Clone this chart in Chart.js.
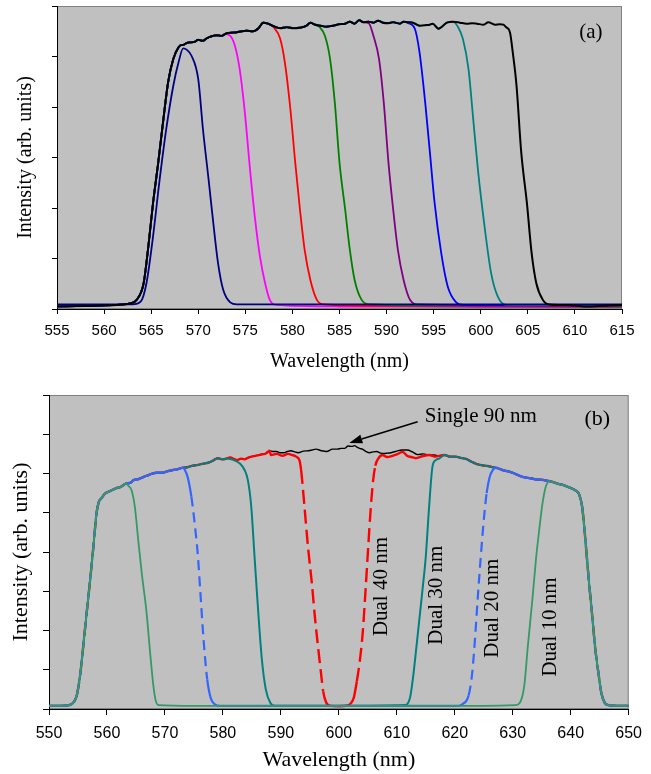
<!DOCTYPE html>
<html><head><meta charset="utf-8">
<script src="https://cdn.jsdelivr.net/npm/chart.js@4.4.1/dist/chart.umd.min.js"></script>
<style>
html,body{margin:0;padding:0;background:#fff;width:651px;height:774px;overflow:hidden;}
canvas{position:absolute;left:0;}
#ca{top:0;} #cb{top:380px;}
</style></head><body>
<canvas id="ca" width="651" height="378"></canvas>
<canvas id="cb" width="651" height="394"></canvas>
<script>
// ---------------- Panel (a) data ----------------
const xTicksA = [555,560,565,570,575,580,585,590,595,600,605,610,615];
const yTicksA = [0,1,2,3,4,5,6];
const riseAx = [555,558,560,562,562.75,563.45,564.2,564.7,565.2,565.75,566.3,566.8,567.35,567.9,568.25];
const riseAy = [0.05,0.06,0.07,0.09,0.11,0.18,0.51,1.24,2.1,2.9,3.76,4.49,4.95,5.18,5.23];
const plateauAx = [568.4,568.8,569.1,569.6,570.0,570.5,570.9,571.4,571.95,572.5,573.0,573.5,574.1,574.6,575.1,575.8,576.4,576.9,577.4,578.0,578.7,579.4,580.1,580.8,581.5,581.9,582.4,583.0,583.6,584.3,585.0,585.6,586.1,586.6,587.1,587.5,588.1,588.6,589.1,589.6,590.2,590.7,591.4,591.8,592.3,592.8,593.5,594.1,594.6,594.9,595.5,595.8,596.4,597.1,597.8,598.5,599.1,599.6,600.3,600.8,601.5,602.0,602.4];
const plateauAy = [5.23,5.27,5.28,5.29,5.33,5.31,5.36,5.40,5.42,5.41,5.46,5.47,5.48,5.50,5.51,5.50,5.56,5.67,5.65,5.60,5.56,5.58,5.56,5.57,5.61,5.67,5.63,5.61,5.59,5.61,5.64,5.65,5.69,5.65,5.72,5.68,5.69,5.67,5.71,5.67,5.66,5.68,5.65,5.69,5.68,5.67,5.61,5.62,5.63,5.65,5.55,5.58,5.67,5.69,5.67,5.65,5.66,5.65,5.63,5.68,5.63,5.64,5.63];
const navyX = [555,563.0,563.9,564.5,565.2,565.9,566.6,567.35,567.9,568.4,568.8,569.3,570.0,570.5,571.1,571.6,572.1,572.65,573.4,574.1,615];
const navyY = [0.09,0.09,0.15,0.51,1.44,2.56,3.56,4.42,4.88,5.16,5.13,5.01,4.55,3.56,2.56,1.7,0.91,0.38,0.13,0.09,0.09];
const magentaFallX = [572.8,573.4,573.9,574.4,574.95,575.5,576.0,576.55,577.1,577.6,578.3,585,600,615];
const magentaFallY = [5.45,5.41,5.21,4.75,3.89,2.76,1.84,1.04,0.51,0.18,0.08,0.05,0.04,0.04];
const redFallX = [578.0,578.7,579.2,579.75,580.3,580.8,581.3,581.9,582.6,583.3,590,615];
const redFallY = [5.58,5.35,4.88,4.02,2.9,1.97,1.17,0.58,0.18,0.09,0.06,0.05];
const greenFallX = [582.9,583.45,584.0,584.5,585.0,585.6,586.1,586.6,587.35,588.2,600,615];
const greenFallY = [5.58,5.41,4.95,4.09,2.9,1.97,1.17,0.58,0.18,0.09,0.06,0.05];
const purpleFallX = [588.1,588.6,589.2,589.7,590.2,590.7,591.2,591.8,592.5,593.4,615];
const purpleFallY = [5.66,5.41,4.95,4.09,2.9,1.97,1.17,0.58,0.18,0.09,0.06];
const blueFallX = [592.3,593.0,593.5,594.1,594.6,595.1,595.8,596.5,597.4,598.1,615];
const blueFallY = [5.66,5.55,5.08,4.09,3.10,2.1,1.11,0.44,0.13,0.08,0.07];
const tealFallX = [597.0,597.6,598.1,598.7,599.2,599.7,600.4,601.1,601.8,602.7,615];
const tealFallY = [5.69,5.58,5.35,4.75,3.76,2.76,1.64,0.71,0.25,0.08,0.07];
const blackFallX = [602.7,603.1,603.4,603.8,604.3,604.9,605.4,605.9,606.6,607.3,609.1,611.2,612.6,615];
const blackFallY = [5.58,5.48,5.08,4.42,3.10,2.1,1.11,0.51,0.18,0.09,0.08,0.05,0.06,0.08];

// ---------------- Panel (b) data ----------------
const xTicksB = [550,560,570,580,590,600,610,620,630,640,650];
const yTicksB = [0,1,2,3,4,5,6,7,8];
const riseBx = [550,552,553.5,554.3,554.8,555.4,555.9,556.5,557.1,557.7,558.2,558.6];
const riseBy = [0.08,0.08,0.1,0.18,0.35,0.9,1.59,2.45,3.29,4.2,4.99,5.28];
const plateauBx = [559.0,559.66,560.5,561.5,562.4,563.36,564.0,564.59,565.5,566.44,567.0,567.68,568.6,569.53,570.5,571.38,572.0,572.61,573.2,573.85,574.8,575.7,576.6,577.55,578.3,579.09,580.02,580.6,581.25,581.9,582.48,583.1,583.72,584.3,584.95,585.6,586.19,586.8,587.42,588.04,588.6,589.27,589.9,590.5,591.1,591.74,592.4,592.97,593.9,594.82,595.4,596.06,597.0,597.91,598.9,599.76,600.4,600.99,601.6,602.23,602.7,603.15,603.6,604.08,604.7,605.31,605.9,606.54,607.2,607.78,608.4,609.01,610.0,610.86,611.8,612.71,613.6,614.56,615.5,616.41,617.3,618.26,619.2,620.11,621.0,621.97,622.9,623.82,624.7,625.67,626.6,627.52,628.4,629.37,630.3,631.22,632.1,633.07,634.0,634.92,635.8,636.77,637.7,638.62,639.5,640.47,641.0,641.4];
const plateauBy = [5.36,5.49,5.55,5.62,5.66,5.75,5.76,5.83,5.86,5.92,5.95,5.99,6.02,6.02,6.06,6.09,6.1,6.13,6.15,6.16,6.2,6.22,6.25,6.28,6.33,6.39,6.36,6.38,6.41,6.37,6.34,6.38,6.36,6.4,6.43,6.45,6.47,6.49,6.51,6.58,6.56,6.56,6.53,6.53,6.56,6.58,6.55,6.53,6.57,6.58,6.6,6.62,6.58,6.56,6.62,6.62,6.64,6.64,6.7,6.69,6.71,6.67,6.64,6.62,6.56,6.53,6.55,6.56,6.52,6.51,6.52,6.53,6.57,6.6,6.6,6.55,6.48,6.5,6.47,6.47,6.45,6.47,6.43,6.43,6.4,6.37,6.3,6.24,6.21,6.19,6.16,6.13,6.08,6.05,6.0,5.94,5.9,5.88,5.85,5.84,5.82,5.79,5.74,5.71,5.66,5.6,5.55,5.49];
const fallBx = [641.97,642.54,643.12,643.7,644.2,644.8,645.3,645.9,646.5,648,650];
const fallBy = [5.16,4.3,3.29,2.4,1.59,0.9,0.4,0.15,0.1,0.08,0.08];
const dual10X = [563.6,564.23,564.8,565.4,566.0,566.8,567.5,568.0,568.4,568.9,575,590,610,625,630.5,631.2,632.0,632.6,633.4,634.0,634.6,635.1,635.7,636.3];
const dual10Y = [5.7,5.58,5.16,4.3,3.46,2.5,1.35,0.6,0.22,0.1,0.08,0.08,0.08,0.08,0.1,0.15,0.6,1.59,2.8,3.8,4.6,5.2,5.66,5.8];
const dual20X = [573.4,573.9,574.56,575.13,575.7,576.1,576.7,577.3,577.9,578.6,579.5,600,620.5,621.3,622.4,623.0,623.5,624.0,624.5,625.0,625.5,626.0,626.6,627.2];
const dual20Y = [6.1,5.92,5.41,4.73,3.88,3.0,1.7,0.75,0.28,0.12,0.08,0.08,0.08,0.12,0.35,0.9,1.8,2.9,3.9,4.8,5.5,5.9,6.1,6.15];
const dual30X = [581.25,581.9,582.88,583.74,584.31,584.89,585.46,585.9,586.7,587.4,588.2,589.0,600,611.5,612.3,612.8,613.4,614.43,615.0,615.58,616.15,616.73,617.3];
const dual30Y = [6.37,6.34,6.26,6.09,5.83,5.16,3.88,2.9,1.3,0.5,0.15,0.08,0.08,0.1,0.3,0.8,1.6,3.03,3.88,5.16,6.17,6.34,6.38];
const dual40X = [588.3,589.3,590.3,591.2,592.0,592.63,593.2,593.49,594.07,594.7,595.35,595.9,596.4,596.9,597.3,597.8,598.5,600,601.5,602.1,602.6,603.1,603.6,604.1,604.6,605.1,605.5,605.9,606.3,606.8,607.55,608.3,609.27,610.2,610.99,611.8,612.5,613.28,614.4,615.58,616.73];
const dual40Y = [6.47,6.5,6.45,6.5,6.47,6.43,6.34,6.09,5.16,4.1,3.2,2.3,1.6,0.95,0.45,0.17,0.08,0.07,0.09,0.15,0.3,0.7,1.2,1.9,3.0,4.2,5.1,5.8,6.2,6.38,6.47,6.42,6.45,6.5,6.55,6.45,6.42,6.39,6.44,6.47,6.43];
const labelsB = ['Single 90 nm','Dual 40 nm','Dual 30 nm','Dual 20 nm','Dual 10 nm'];

// ---------------- helpers ----------------
const zip = (xs, ys) => xs.map((x, i) => ({x, y: ys[i]}));
const between = (xs, ys, lo, hi) => zip(xs, ys).filter(p => p.x > lo && p.x < hi);
function seriesA(fx, fy) {
  return [...zip(riseAx, riseAy), ...between(plateauAx, plateauAy, riseAx[riseAx.length-1], fx[0]), ...zip(fx, fy)];
}
function seriesB(ox, oy) {
  const riseEnd = riseBx[riseBx.length-1];
  const out = [...zip(riseBx, riseBy)];
  if (ox) {
    out.push(...between(plateauBx, plateauBy, riseEnd, ox[0]), ...zip(ox, oy),
             ...between(plateauBx, plateauBy, ox[ox.length-1], fallBx[0]));
  } else {
    out.push(...between(plateauBx, plateauBy, riseEnd, fallBx[0]));
  }
  out.push(...zip(fallBx, fallBy));
  return out;
}
const steepDash = dash => ctx => {
  const dx = Math.abs(ctx.p1.parsed.x - ctx.p0.parsed.x);
  const dy = Math.abs(ctx.p1.parsed.y - ctx.p0.parsed.y);
  return dy > 0.9 * dx ? dash : undefined;
};

// ---------------- plugins ----------------
const plotBg = {
  id: 'plotBg',
  beforeDraw(chart) {
    const {ctx, chartArea: a} = chart;
    ctx.save();
    ctx.fillStyle = '#c0c0c0';
    ctx.fillRect(a.left, a.top, a.right - a.left, a.bottom - a.top);
    ctx.strokeStyle = '#808080'; ctx.lineWidth = 1;
    ctx.strokeRect(a.left + 0.5, a.top + 0.5, a.right - a.left - 1, a.bottom - a.top - 1);
    ctx.restore();
  }
};
const notes = {
  id: 'notes',
  afterDatasetsDraw(chart, args, opts) {
    const {ctx, scales: {x, y}} = chart;
    (opts.arrows || []).forEach(a => {
      const x1 = x.getPixelForValue(a.x1), y1 = y.getPixelForValue(a.y1);
      const x2 = x.getPixelForValue(a.x2), y2 = y.getPixelForValue(a.y2);
      const ang = Math.atan2(y2 - y1, x2 - x1), L = 13, W = 4.5;
      const bx = x2 - L * Math.cos(ang), by = y2 - L * Math.sin(ang);
      ctx.save();
      ctx.strokeStyle = '#000'; ctx.fillStyle = '#000'; ctx.lineWidth = 1.6;
      ctx.beginPath(); ctx.moveTo(x1, y1); ctx.lineTo(bx, by); ctx.stroke();
      ctx.beginPath(); ctx.moveTo(x2, y2);
      ctx.lineTo(bx + W * Math.sin(ang), by - W * Math.cos(ang));
      ctx.lineTo(bx - W * Math.sin(ang), by + W * Math.cos(ang));
      ctx.closePath(); ctx.fill();
      ctx.restore();
    });
    (opts.texts || []).forEach(t => {
      ctx.save();
      ctx.font = t.font; ctx.fillStyle = '#000';
      ctx.textAlign = 'center'; ctx.textBaseline = 'middle';
      ctx.translate(x.getPixelForValue(t.x), y.getPixelForValue(t.y));
      if (t.rotate) ctx.rotate(t.rotate * Math.PI / 180);
      ctx.fillText(t.text, 0, 0);
      ctx.restore();
    });
  }
};

function axes(cfg) {
  const tickFont = {family: 'Liberation Sans', size: cfg.tickSize};
  const titleFont = {family: 'Liberation Serif', size: cfg.titleSize};
  return {
    x: {
      type: 'linear', min: cfg.xTicks[0], max: cfg.xTicks[cfg.xTicks.length-1],
      afterBuildTicks: s => { s.ticks = cfg.xTicks.map(v => ({value: v})); },
      afterFit: s => { s.height = cfg.xHeight; },
      grid: {drawOnChartArea: false, drawTicks: true, tickLength: cfg.tickLen, color: '#000', lineWidth: 1},
      border: {display: true, color: '#000', width: 1},
      ticks: {font: tickFont, color: '#000', padding: cfg.tickPad, maxRotation: 0, autoSkip: false},
      title: {display: true, text: 'Wavelength (nm)', font: titleFont, color: '#000', padding: {top: 0, bottom: cfg.xTitlePad}}
    },
    y: {
      type: 'linear', min: cfg.yTicks[0], max: cfg.yTicks[cfg.yTicks.length-1],
      afterBuildTicks: s => { s.ticks = cfg.yTicks.map(v => ({value: v})); },
      afterFit: s => { s.width = cfg.yWidth; },
      grid: {drawOnChartArea: false, drawTicks: true, tickLength: cfg.tickLen, color: '#000', lineWidth: 1},
      border: {display: true, color: '#000', width: 1},
      ticks: {display: false},
      title: {display: true, text: 'Intensity (arb. units)', font: titleFont, color: '#000', padding: {top: cfg.yTitlePad, bottom: 0}}
    }
  };
}

const baseOpts = {
  responsive: false, animation: false, devicePixelRatio: 1,
  elements: {point: {radius: 0, hoverRadius: 0}, line: {cubicInterpolationMode: 'monotone', borderCapStyle: 'butt', borderJoinStyle: 'round', fill: false}},
  events: []
};

// ---------------- Chart (a) ----------------
const lineA = (data, color, w) => ({data, borderColor: color, borderWidth: w});
new Chart(document.getElementById('ca'), {
  type: 'line',
  data: {datasets: [
    lineA(seriesA(blackFallX, blackFallY), '#000000', 2),
    lineA(zip(navyX, navyY), '#000080', 1.8),
    lineA(seriesA(tealFallX, tealFallY), '#008080', 1.8),
    lineA(seriesA(blueFallX, blueFallY), '#0000ff', 1.8),
    lineA(seriesA(purpleFallX, purpleFallY), '#800080', 1.8),
    lineA(seriesA(greenFallX, greenFallY), '#008000', 1.8),
    lineA(seriesA(redFallX, redFallY), '#ff0000', 1.8),
    lineA(seriesA(magentaFallX, magentaFallY), '#ff00ff', 1.8)
  ]},
  options: Object.assign({}, baseOpts, {
    layout: {padding: {left: 0, top: 6, right: 29, bottom: 0}},
    plugins: {legend: {display: false}, tooltip: {enabled: false},
      notes: {texts: [{text: '(a)', x: 611.7, y: 5.47, font: '21px "Liberation Serif"'}]}},
    scales: axes({xTicks: xTicksA, yTicks: yTicksA, tickSize: 15, titleSize: 20, xHeight: 69, yWidth: 57,
                  tickLen: 5, tickPad: 8, xTitlePad: 4, yTitlePad: 14})
  }),
  plugins: [plotBg, notes]
});

// ---------------- Chart (b) ----------------
new Chart(document.getElementById('cb'), {
  type: 'line',
  data: {datasets: [
    {label: labelsB[4], data: seriesB(dual10X, dual10Y), borderColor: '#339966', borderWidth: 1.8},
    {label: labelsB[3], data: seriesB(dual20X, dual20Y), borderColor: '#3366ff', borderWidth: 2.2,
      segment: {borderDash: steepDash([10, 6])}},
    {label: labelsB[2], data: seriesB(dual30X, dual30Y), borderColor: '#008080', borderWidth: 2},
    {label: labelsB[1], data: seriesB(dual40X, dual40Y), borderColor: '#ff0000', borderWidth: 2.4,
      segment: {borderDash: steepDash([14, 6])}},
    {label: labelsB[0], data: seriesB(null, null), borderColor: '#000000', borderWidth: 1.4}
  ]},
  options: Object.assign({}, baseOpts, {
    layout: {padding: {left: 0, top: 15, right: 21, bottom: 0}},
    plugins: {legend: {display: false}, tooltip: {enabled: false},
      notes: {
        arrows: [{x1: 613.6, y1: 7.32, x2: 601.8, y2: 6.78}],
        texts: [
          {text: '(b)', x: 644.6, y: 7.39, font: '22px "Liberation Serif"'},
          {text: labelsB[0], x: 624.5, y: 7.45, font: '21px "Liberation Serif"'},
          {text: labelsB[1], x: 607.4, y: 3.12, rotate: -90, font: '21px "Liberation Serif"'},
          {text: labelsB[2], x: 616.9, y: 2.9, rotate: -90, font: '21px "Liberation Serif"'},
          {text: labelsB[3], x: 626.5, y: 2.57, rotate: -90, font: '21px "Liberation Serif"'},
          {text: labelsB[4], x: 636.6, y: 2.09, rotate: -90, font: '21px "Liberation Serif"'}
        ]}},
    scales: axes({xTicks: xTicksB, yTicks: yTicksB, tickSize: 16, titleSize: 22, xHeight: 65, yWidth: 49,
                  tickLen: 6, tickPad: 9, xTitlePad: 1, yTitlePad: 8})
  }),
  plugins: [plotBg, notes]
});
</script></body></html>
